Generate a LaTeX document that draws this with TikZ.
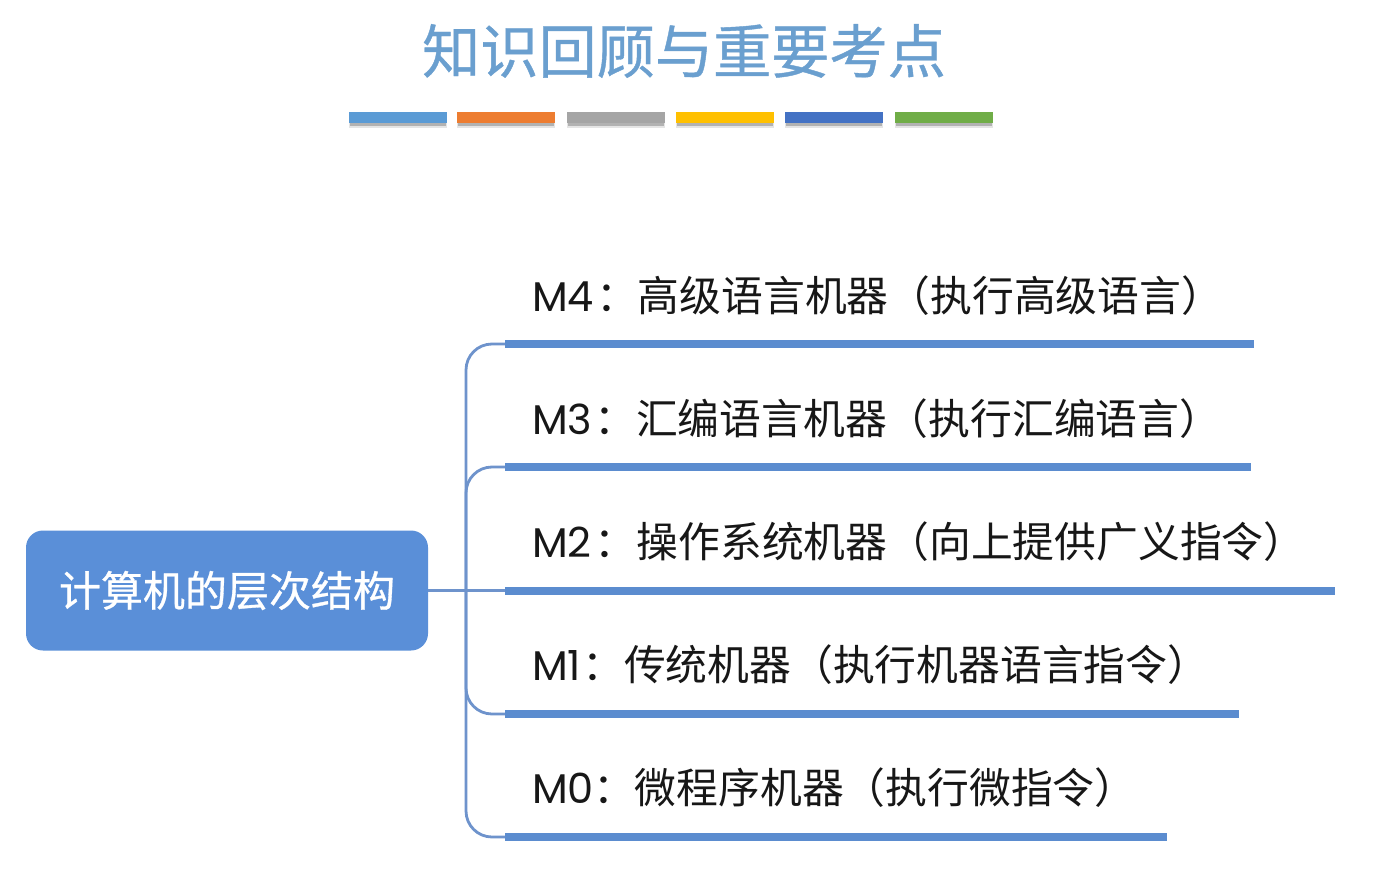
\documentclass[tikz,border=0pt]{standalone}
\usepackage{fontspec}
\setmainfont{Noto Sans CJK SC}
\newfontfamily\latinf{Poppins}
\newfontfamily\medcjk[FakeBold=0.7]{Noto Sans CJK SC}
\definecolor{ttl}{HTML}{6A9FCF}
\definecolor{rootc}{HTML}{5A8FD8}
\definecolor{linec}{HTML}{6E93CC}
\definecolor{barc}{HTML}{5B8CCF}
\definecolor{inkc}{HTML}{171717}
\tikzset{
 x=1pt,y=-1pt,
 rootbox/.style={draw=none,fill=rootc,rounded corners=17pt,minimum width=402pt,minimum height=120pt,inner sep=0pt,text=white,font=\medcjk\fontsize{42pt}{44pt}\selectfont},
 ulbar/.style={draw=none,fill=barc,inner sep=0pt,minimum height=8pt,anchor=west},
 deco/.style={draw=none,inner sep=0pt,minimum height=11pt,minimum width=98pt,anchor=west},
 item/.style={inner sep=0pt,anchor=west,text=inkc,font=\fontsize{41.8pt}{44pt}\selectfont},
 conn/.style={draw=linec,line width=2.8pt},
 branch/.style={conn,rounded corners=26pt},
}
\newcommand{\lat}[1]{{\latinf\fontsize{41.5pt}{44pt}\selectfont #1}}
\begin{document}
\begin{tikzpicture}
\useasboundingbox (0,0) rectangle (1391,888);
\fill[white] (0,0) rectangle (1391,888);
\node[inner sep=0pt,text=ttl,font=\medcjk\fontsize{58.2pt}{60pt}\selectfont] (title) at (684,51) {知识回顾与重要考点};
\foreach \n/\xa/\c in {a/349/5B9BD5,b/457/ED7D31,c/567/A5A5A5,d/676/FFC000,e/785/4472C4,f/895/70AD47}{
  \fill[black!10] (\xa,118) rectangle (\xa+98,128);
  \fill[black!30] (\xa+1,120) rectangle (\xa+97,126);
  \definecolor{tmpc}{HTML}{\c}
  \node[deco,fill=tmpc] (deco\n) at (\xa,117.5) {};
}
\node[rootbox] (root) at (227,590.5) {计算机的层次结构};
\node[ulbar,minimum width=749pt] (b4) at (505,344) {};
\node[ulbar,minimum width=746pt] (b3) at (505,467) {};
\node[ulbar,minimum width=830pt] (b2) at (505,590.5) {};
\node[ulbar,minimum width=734pt] (b1) at (505,714) {};
\node[ulbar,minimum width=662pt] (b0) at (505,837) {};
\coordinate (trunk) at (466,590.5);
\draw[conn] (root.east) -- (b2.west);
\draw[branch] (trunk) |- (b4.west);
\draw[branch] (trunk) |- (b3.west);
\draw[branch] (trunk) |- (b1.west);
\draw[branch] (trunk) |- (b0.west);
\node[item] (m4) at (532,296) {\lat{M4}\hspace{2pt}：高级语言机器（执行高级语言）};
\node[item] (m3) at (532,419) {\lat{M3}\hspace{2pt}：汇编语言机器（执行汇编语言）};
\node[item] (m2) at (532,542) {\lat{M2}\hspace{3pt}：操作系统机器（向上提供广义指令）};
\node[item] (m1) at (532,665) {\lat{M1}\hspace{1pt}：传统机器（执行机器语言指令）};
\node[item] (m0) at (532,788) {\lat{M0}\hspace{-1pt}：微程序机器（执行微指令）};
\end{tikzpicture}
\end{document}
